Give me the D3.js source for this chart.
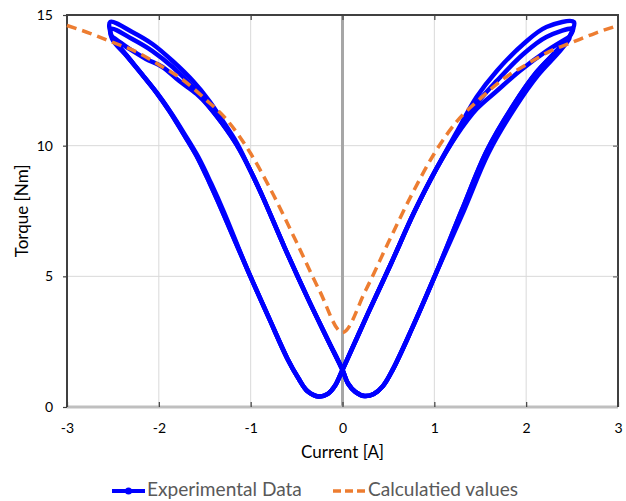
<!DOCTYPE html>
<html>
<head>
<meta charset="utf-8">
<script src="https://cdn.jsdelivr.net/npm/d3@7"></script>
<style>
  html, body { margin: 0; padding: 0; background: #fff; }
  svg { display: block; }
  text { font-family: Lato, "Open Sans", sans-serif; }
</style>
</head>
<body>
<svg id="chart" width="626" height="501"></svg>
<script>
// ---------- data ----------
const xTicks = [-3, -2, -1, 0, 1, 2, 3];
const yTicks = [0, 5, 10, 15];
const xTitle = "Current [A]";
const yTitle = "Torque [Nm]";
const seriesNames = ["Experimental Data", "Calculatied values"];

// calculated values (orange dashed)
const calcCurrent = [-3, -2.75, -2.5, -2.25, -2, -1.75, -1.5, -1.25, -1, -0.75, -0.5, -0.25, 0,
                     0.25, 0.5, 0.75, 1, 1.25, 1.5, 1.75, 2, 2.25, 2.5, 2.75, 3];
const calcTorque  = [14.6, 14.3, 13.95, 13.6, 13.1, 12.55, 11.8, 10.95, 9.7, 8.1, 6.3, 4.45, 2.85,
                     4.45, 6.3, 8.1, 9.7, 10.95, 11.8, 12.55, 13.1, 13.6, 13.95, 14.3, 14.6];

// experimental data, read as path segments [current, torque]
const rightUpperTop = [[2.47,14.16],[2.52,14.73],[2.22,14.54],[1.97,13.89],[1.68,12.86],[1.46,11.86],[1.24,10.5]];
const rightUpperLow = [[2.47,14.16],[2.51,14.47],[2.22,14.16],[1.97,13.51],[1.68,12.48],[1.46,11.6],[1.24,10.42]];
const rightMiddle   = [[2.47,14.16],[2.22,13.62],[1.93,12.86],[1.68,12.09],[1.46,11.4],[1.24,10.38]];
const innerRight    = [[1.02,9.1],[0.78,7.45],[0.53,5.5],[0.28,3.6],[0,1.42]];
const leftValley    = [[-0.08,0.82],[-0.16,0.5],[-0.26,0.4],[-0.38,0.6],[-0.48,1.1],[-0.6,1.85],[-0.8,3.4],[-1.02,5.13]];
const leftLower     = [[-1.31,7.5],[-1.45,8.6],[-1.59,9.62],[-1.74,10.5],[-1.88,11.3],[-2.03,12.05],[-2.18,12.72],[-2.35,13.45],[-2.51,14.16]];
const leftLowerB    = [[-1.29,7.45],[-1.43,8.55],[-1.57,9.56],[-1.72,10.44],[-1.86,11.22],[-2.01,11.97],[-2.17,12.66],[-2.34,13.39],[-2.51,14.1]];
const leftUpperTop  = [[-2.53,14.73],[-2.29,14.35],[-2.07,13.89],[-1.85,13.24],[-1.63,12.48],[-1.45,11.71],[-1.31,10.98],[-1.15,10.1]];
const leftUpperLow  = [[-2.52,14.47],[-2.29,14.08],[-2.07,13.62],[-1.85,13.01],[-1.63,12.25],[-1.45,11.48],[-1.31,10.85],[-1.15,10.02]];
const leftMiddle    = [[-2.32,13.7],[-2.14,13.32],[-1.96,13.01],[-1.78,12.48],[-1.59,11.98],[-1.45,11.48],[-1.31,10.85],[-1.15,10.02]];
const innerLeft     = [[-1.01,9.1],[-0.87,8.05],[-0.63,6.1],[-0.37,4.1],[-0.15,2.5],[0,1.42]];
const rightValley   = [[0.06,0.9],[0.14,0.58],[0.24,0.42],[0.34,0.5],[0.44,0.8],[0.55,1.45],[0.75,2.95],[1.02,5.13]];
const rightLower    = [[1.3,7.54],[1.57,9.8],[1.86,11.55],[2.11,12.8],[2.33,13.62],[2.47,14.16]];
const rightLowerB   = [[1.32,7.5],[1.59,9.72],[1.88,11.46],[2.13,12.7],[2.35,13.55],[2.47,14.1]];

const cycles = [
  [rightUpperTop, innerRight, leftValley, leftLower,  leftUpperTop, innerLeft, rightValley, rightLower],
  [rightUpperLow, innerRight, leftValley, leftLowerB, leftUpperLow, innerLeft, rightValley, rightLowerB],
  [rightMiddle,   innerRight, leftValley, leftLower,  leftMiddle,   innerLeft, rightValley, rightLower]
].map(segs => segs.flat());

// ---------- drawing ----------
const svg = d3.select("#chart");
const x = d3.scaleLinear().domain([-3, 3]).range([67, 618]);
const y = d3.scaleLinear().domain([0, 15]).range([407, 15]);

const BLUE = "#0000ff", ORANGE = "#ED7D31";

// size a text so that it spans the wanted width
function fitWidth(sel, w) {
  sel.attr("font-size", 20);
  const cur = sel.node().getComputedTextLength();
  sel.attr("font-size", 20 * w / cur);
  return sel;
}

// gridlines
svg.append("g").selectAll("line").data(xTicks.filter(d => d !== 0 && Math.abs(d) !== 3)).join("line")
  .attr("x1", d => x(d)).attr("x2", d => x(d)).attr("y1", y(0)).attr("y2", y(15))
  .attr("stroke", "#d9d9d9").attr("stroke-width", 1);
svg.append("g").selectAll("line").data(yTicks.filter(d => d !== 0 && d !== 15)).join("line")
  .attr("x1", x(-3)).attr("x2", x(3)).attr("y1", d => y(d)).attr("y2", d => y(d))
  .attr("stroke", "#d9d9d9").attr("stroke-width", 1);

// zero line and bottom axis line
svg.append("line").attr("x1", x(0)).attr("x2", x(0)).attr("y1", y(0)).attr("y2", y(15))
  .attr("stroke", "#a6a6a6").attr("stroke-width", 3);
svg.append("line").attr("x1", x(-3)).attr("x2", x(3)).attr("y1", y(0)).attr("y2", y(0))
  .attr("stroke", "#bfbfbf").attr("stroke-width", 3);

// frame left/top/right
svg.append("path")
  .attr("d", `M${x(-3)},${y(0)}V${y(15)}H${x(3)}V${y(0)}`)
  .attr("fill", "none").attr("stroke", "#404040").attr("stroke-width", 2);

// axes
const fs = 14;
const fmt = d => String(d);
const ax = svg.append("g").attr("transform", `translate(0,${y(0)})`)
  .call(d3.axisBottom(x).tickValues(xTicks).tickSizeInner(-5).tickSizeOuter(0).tickPadding(16).tickFormat(fmt));
ax.select(".domain").remove();
ax.selectAll(".tick line").attr("stroke", "#404040").attr("stroke-width", 1.2);
ax.selectAll("text").attr("font-size", fs).attr("fill", "#000");

const axTop = svg.append("g").attr("transform", `translate(0,${y(15)})`)
  .call(d3.axisTop(x).tickValues(xTicks.slice(1, -1)).tickSizeInner(-5).tickSizeOuter(0).tickFormat(""));
axTop.select(".domain").remove();
axTop.selectAll(".tick line").attr("stroke", "#404040").attr("stroke-width", 1.2);

const ay = svg.append("g").attr("transform", `translate(${x(-3)},0)`)
  .call(d3.axisLeft(y).tickValues(yTicks).tickSizeInner(4).tickSizeOuter(0).tickPadding(10).tickFormat(fmt));
ay.select(".domain").remove();
ay.selectAll(".tick line").attr("stroke", "#404040").attr("stroke-width", 1.2);
ay.selectAll("text").attr("font-size", fs).attr("fill", "#000");

const ayR = svg.append("g").attr("transform", `translate(${x(3)},0)`)
  .call(d3.axisRight(y).tickValues(yTicks.slice(1, -1)).tickSizeInner(-5).tickSizeOuter(0).tickFormat(""));
ayR.select(".domain").remove();
ayR.selectAll(".tick line").attr("stroke", "#808080").attr("stroke-width", 1.5);

// experimental data
const line = d3.line().x(d => x(d[0])).y(d => y(d[1])).curve(d3.curveCatmullRom.alpha(0.5));
svg.append("g").selectAll("path").data(cycles).join("path")
  .attr("d", d => line([...d, d[0]]))
  .attr("fill", "none").attr("stroke", BLUE).attr("stroke-width", 4.5)
  .attr("stroke-linejoin", "round");

// calculated values
const calc = calcCurrent.map((c, i) => [c, calcTorque[i]]);
const calcLine = d3.line().x(d => x(d[0])).y(d => y(d[1])).curve(d3.curveMonotoneX);
svg.append("path").attr("d", calcLine(calc))
  .attr("fill", "none").attr("stroke", ORANGE).attr("stroke-width", 3.5)
  .attr("stroke-dasharray", "10,6");

// titles
const xt = svg.append("text").attr("x", x(0)).attr("y", 458).attr("text-anchor", "middle")
  .attr("fill", "#000").text(xTitle);
fitWidth(xt, 83);
const xtSize = +xt.attr("font-size");
svg.append("text").attr("transform", `translate(28,${(y(0) + y(15)) / 2}) rotate(-90)`)
  .attr("text-anchor", "middle").attr("font-size", xtSize).attr("fill", "#000").text(yTitle);

// legend
const lg = svg.append("g");
lg.append("line").attr("x1", 112).attr("x2", 145).attr("y1", 491).attr("y2", 491)
  .attr("stroke", BLUE).attr("stroke-width", 4);
lg.append("circle").attr("cx", 128.5).attr("cy", 491).attr("r", 3.5).attr("fill", BLUE);
const lt1 = lg.append("text").attr("x", 147).attr("y", 496).attr("fill", "#595959").text(seriesNames[0]);
fitWidth(lt1, 155);
lg.append("line").attr("x1", 333).attr("x2", 367).attr("y1", 491).attr("y2", 491)
  .attr("stroke", ORANGE).attr("stroke-width", 3.5).attr("stroke-dasharray", "8,4");
lg.append("text").attr("x", 368).attr("y", 496).attr("fill", "#595959")
  .attr("font-size", lt1.attr("font-size")).text(seriesNames[1]);
</script>
</body>
</html>
